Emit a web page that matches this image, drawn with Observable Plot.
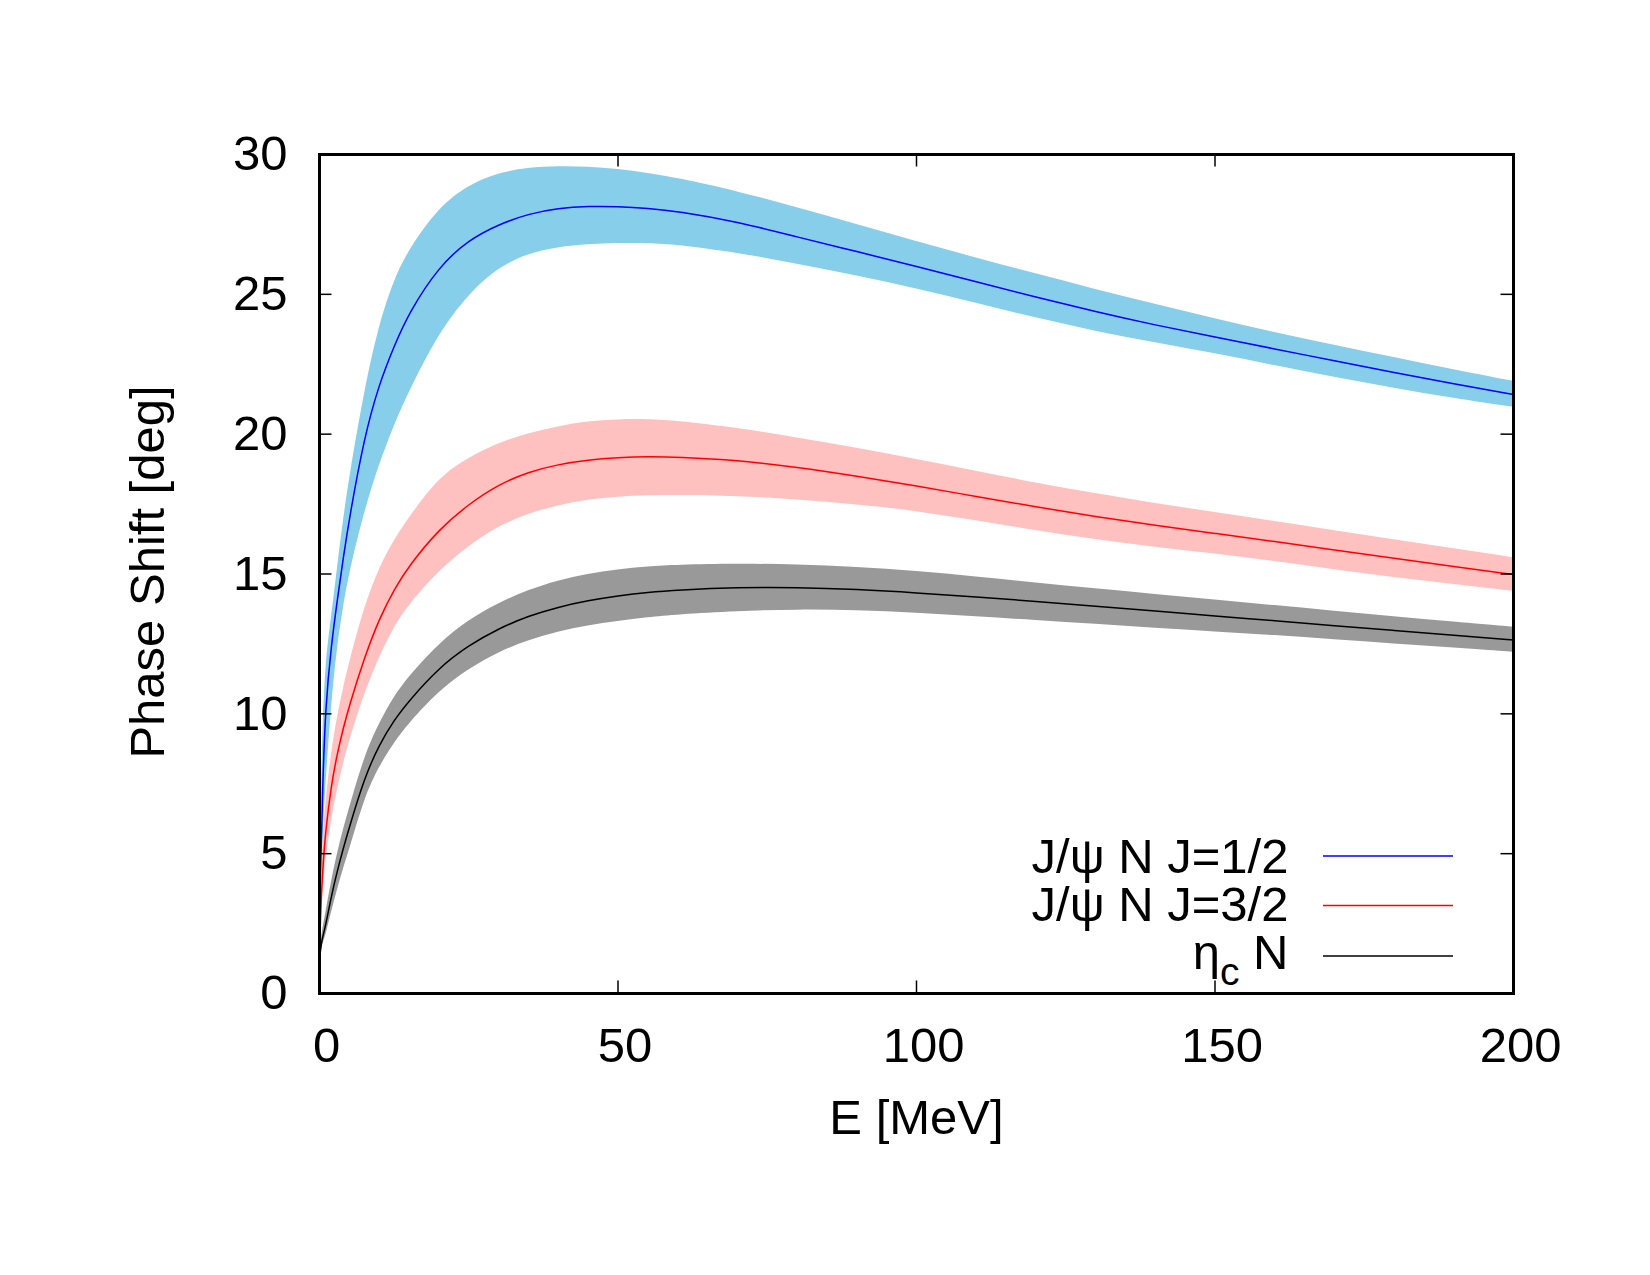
<!DOCTYPE html>
<html>
<head>
<meta charset="utf-8">
<script src="https://cdn.jsdelivr.net/npm/d3@7"></script>
<script src="https://cdn.jsdelivr.net/npm/@observablehq/plot@0.6"></script>
<style>
  html, body { margin: 0; padding: 0; background: #ffffff; }
</style>
</head>
<body>
<div id="chart"></div>
<script>
// ---------------- data ----------------
const E = [0.1, 0.3, 0.5, 1, 2, 3, 4, 5, 7.5, 10, 12.5, 15, 20, 25, 30, 35, 40, 45, 50, 55, 60,
           70, 80, 90, 100, 110, 120, 130, 140, 150, 160, 170, 180, 190, 200];

// J/psi N, J=1/2
const psiHalfMid = [3.9, 5.2, 7.2, 10.3, 12.5, 14.1, 15.6, 17.0, 19.9, 21.8, 23.15, 24.35, 26.0, 26.95, 27.5, 27.88, 28.08, 28.15, 28.14, 28.08, 27.97,
                    27.6, 27.05, 26.53, 26.0, 25.45, 24.9, 24.38, 23.9, 23.47, 23.05, 22.62, 22.2, 21.8, 21.42];
const psiHalfHi  = [4.3, 6.8, 9.0, 11.8, 13.4, 15.2, 16.9, 18.4, 21.5, 23.9, 25.5, 26.6, 28.1, 28.9, 29.33, 29.52, 29.57, 29.55, 29.47, 29.33, 29.15,
                    28.68, 28.1, 27.5, 26.88, 26.3, 25.73, 25.17, 24.64, 24.12, 23.63, 23.18, 22.74, 22.3, 21.89];
const psiHalfLo  = [3.6, 4.3, 5.3, 7.3, 10.3, 12.4, 13.8, 15.0, 17.2, 18.9, 20.3, 21.5, 23.6, 25.0, 25.95, 26.45, 26.68, 26.78, 26.82, 26.82, 26.77,
                    26.48, 26.08, 25.67, 25.2, 24.68, 24.15, 23.67, 23.26, 22.88, 22.45, 22.03, 21.64, 21.28, 20.96];

// J/psi N, J=3/2
const psiThreeMid = [2.25, 3.4, 4.3, 5.8, 7.5, 8.6, 9.5, 10.3, 12.0, 13.4, 14.45, 15.3, 16.6, 17.5, 18.2, 18.65, 18.92, 19.08, 19.16, 19.2, 19.18,
                     19.07, 18.82, 18.5, 18.15, 17.77, 17.4, 17.05, 16.74, 16.45, 16.16, 15.86, 15.56, 15.27, 14.98];
const psiThreeHi  = [2.5, 4.0, 5.1, 6.8, 8.6, 9.9, 10.9, 11.8, 13.8, 15.2, 16.2, 17.0, 18.45, 19.15, 19.68, 20.02, 20.27, 20.45, 20.52, 20.53, 20.47,
                     20.22, 19.87, 19.5, 19.1, 18.68, 18.25, 17.87, 17.52, 17.2, 16.88, 16.55, 16.22, 15.9, 15.58];
const psiThreeLo  = [2.05, 2.8, 3.5, 4.7, 6.2, 7.3, 8.2, 9.0, 10.7, 12.0, 13.1, 13.9, 15.1, 16.0, 16.7, 17.15, 17.45, 17.65, 17.75, 17.8, 17.82,
                     17.78, 17.66, 17.48, 17.25, 16.9, 16.55, 16.22, 15.95, 15.72, 15.45, 15.15, 14.87, 14.62, 14.38];

// eta_c N
const etaMid = [1.42, 1.75, 2.0, 2.4, 3.5, 4.4, 5.2, 5.95, 7.7, 8.9, 9.78, 10.47, 11.65, 12.45, 13.05, 13.5, 13.82, 14.05, 14.22, 14.35, 14.43,
                14.52, 14.52, 14.45, 14.33, 14.18, 14.02, 13.85, 13.68, 13.5, 13.33, 13.15, 12.98, 12.81, 12.64];
const etaHi  = [1.5, 1.9, 2.25, 2.8, 4.0, 5.0, 5.85, 6.6, 8.45, 9.65, 10.6, 11.33, 12.5, 13.35, 13.95, 14.42, 14.76, 15.0, 15.15, 15.26, 15.32,
                15.36, 15.33, 15.24, 15.1, 14.9, 14.68, 14.47, 14.27, 14.07, 13.87, 13.67, 13.47, 13.28, 13.1];
const etaLo  = [1.35, 1.55, 1.75, 2.0, 2.9, 3.7, 4.45, 5.1, 6.95, 8.1, 8.95, 9.65, 10.8, 11.6, 12.2, 12.62, 12.93, 13.15, 13.3, 13.44, 13.54,
                13.66, 13.72, 13.7, 13.6, 13.47, 13.34, 13.2, 13.06, 12.93, 12.8, 12.65, 12.5, 12.35, 12.2];

const legendLabels = ["J/ψ N J=1/2", "J/ψ N J=3/2", "η_c N"];
const xTicks = [0, 50, 100, 150, 200];
const yTicks = [0, 5, 10, 15, 20, 25, 30];
const xTitle = "E [MeV]";
const yTitle = "Phase Shift [deg]";

// ---------------- layout / style ----------------
const W = 1650, H = 1275;
const ML = 319, MR = 137, MT = 154, MB = 282;
const FW = W - ML - MR, FH = H - MT - MB;
const TICK = 12.5;
const FS = 49;
const curve = "basis";

const series = [
  {lo: psiHalfLo,  hi: psiHalfHi,  mid: psiHalfMid,  fill: "#87ceeb", stroke: "#0000ff", textDy: -136, lineDy: -137.5},
  {lo: psiThreeLo, hi: psiThreeHi, mid: psiThreeMid, fill: "#ffc0c0", stroke: "#ff0000", textDy: -88,  lineDy: -88},
  {lo: etaLo,      hi: etaHi,      mid: etaMid,      fill: "#999999", stroke: "#000000", textDy: -40,  lineDy: -37.5}
];

const marks = [];
series.forEach(s => marks.push(Plot.areaY(E, {x: E, y1: s.lo, y2: s.hi, fill: s.fill, curve})));
series.forEach(s => marks.push(Plot.line(E, {x: E, y: s.mid, stroke: s.stroke, strokeWidth: 1.5, curve})));

// inward ticks on all four sides
marks.push(Plot.tickY(yTicks, {y: d => d, insetRight: FW - TICK, stroke: "#000", strokeWidth: 1.5}));
marks.push(Plot.tickY(yTicks, {y: d => d, insetLeft: FW - TICK, stroke: "#000", strokeWidth: 1.5}));
marks.push(Plot.tickX(xTicks, {x: d => d, insetTop: FH - TICK, stroke: "#000", strokeWidth: 1.5}));
marks.push(Plot.tickX(xTicks, {x: d => d, insetBottom: FH - TICK, stroke: "#000", strokeWidth: 1.5}));

marks.push(Plot.axisY({ticks: yTicks, tickSize: 0, tickPadding: 32, label: null, fontSize: FS}));
marks.push(Plot.axisX({ticks: xTicks, tickSize: 0, tickPadding: 34, label: null, fontSize: FS, dx: 7}));
marks.push(Plot.frame({stroke: "#000", strokeWidth: 3}));

marks.push(Plot.text([xTitle], {frameAnchor: "bottom", textAnchor: "middle", lineAnchor: "middle", dy: 125, fontSize: FS}));
marks.push(Plot.text([yTitle], {frameAnchor: "left", textAnchor: "middle", lineAnchor: "middle", rotate: -90, dx: -171, dy: -2, fontSize: FS}));

// legend
series.forEach((s, i) => {
  marks.push(Plot.text([legendLabels[i]], {frameAnchor: "bottom-right", textAnchor: "end", lineAnchor: "middle", dx: -225, dy: s.textDy, fontSize: FS}));
  marks.push(Plot.tickY([0], {y: d => d, dy: s.lineDy, insetLeft: 1004, insetRight: 60, stroke: s.stroke, strokeWidth: 1.5}));
});

const chart = Plot.plot({
  width: W,
  height: H,
  marginLeft: ML,
  marginRight: MR,
  marginTop: MT,
  marginBottom: MB,
  x: {domain: [0, 200]},
  y: {domain: [0, 30]},
  style: {fontFamily: "'Liberation Sans', Arial, Helvetica, sans-serif", fontSize: FS + "px", background: "#ffffff", color: "#000"},
  marks
});

// subscript for eta_c
d3.select(chart).selectAll("text").filter(function () { return this.textContent.includes("_c"); }).each(function () {
  const parts = this.textContent.split("_c");
  const t = d3.select(this);
  t.text(null);
  t.append("tspan").text(parts[0]);
  t.append("tspan").attr("font-size", 39).attr("dy", 16).text("c");
  t.append("tspan").attr("font-size", FS).attr("dy", -16).text(parts[1]);
});

document.getElementById("chart").appendChild(chart);
</script>
</body>
</html>
